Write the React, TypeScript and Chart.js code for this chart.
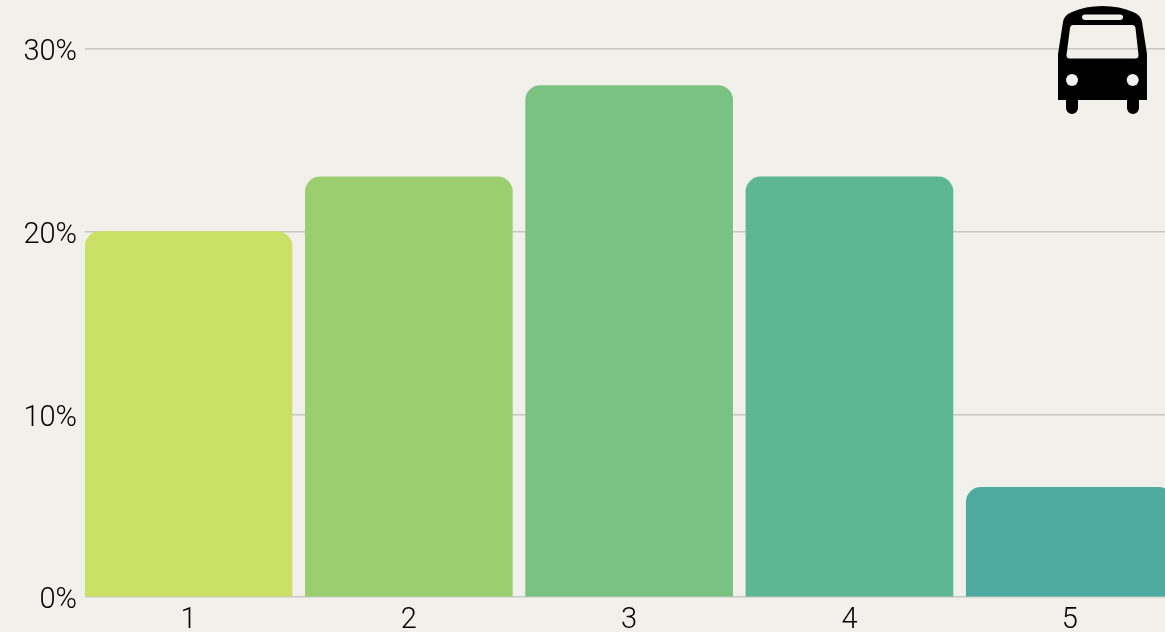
import React, { useEffect, useRef } from "react";
import { Chart, registerables } from "chart.js";

Chart.register(...registerables);

const categories = [1, 2, 3, 4, 5];
const values = [20, 23, 28, 23, 6];
const barColors = ["#cbe165", "#9bce6f", "#7ac282", "#5db892", "#4faba0"];
const yTicks = [0, 10, 20, 30];

const FONT = { family: "Roboto", size: 29, weight: "300" as const };
const INK = "#000000";
const RULE = "#c8c8c3";

export default function App() {
  const ref = useRef<HTMLCanvasElement>(null);

  useEffect(() => {
    const chart = new Chart(ref.current!, {
      type: "bar",
      data: {
        datasets: [
          {
            data: categories.map((c, i) => ({ x: c, y: values[i] })),
            backgroundColor: barColors,
            barThickness: 207,
            borderRadius: { topLeft: 15, topRight: 15, bottomLeft: 0, bottomRight: 0 },
            borderSkipped: false,
          },
        ],
      },
      options: {
        responsive: false,
        animation: false,
        layout: { padding: { top: 49, right: 7, left: 0, bottom: 0 } },
        plugins: { legend: { display: false }, tooltip: { enabled: false } },
        scales: {
          x: {
            type: "linear",
            offset: false,
            min: 0.53,
            max: 5.4687,
            afterBuildTicks: (s: any) => {
              s.ticks = categories.map((value) => ({ value }));
            },
            afterFit: (s: any) => {
              s.height = 35;
            },
            grid: { display: false, drawTicks: false, offset: false },
            border: { display: false },
            ticks: {
              color: INK,
              font: FONT,
              padding: 6,
              maxRotation: 0,
              autoSkip: false,
              callback: (v: any) => String(v),
            },
          },
          y: {
            min: 0,
            max: 30,
            afterBuildTicks: (s: any) => {
              s.ticks = yTicks.map((value) => ({ value }));
            },
            afterFit: (s: any) => {
              s.width = 85;
            },
            grid: { color: RULE, lineWidth: 1.5, drawTicks: false },
            border: { display: false },
            ticks: {
              color: INK,
              font: FONT,
              padding: 8,
              labelOffset: 4,
              callback: (v: any) => `${v}%`,
            },
          },
        },
      },
    } as any);
    return () => chart.destroy();
  }, []);

  return (
    <div style={{ position: "fixed", left: 0, top: 0, width: 1165, height: 632, overflow: "hidden", background: "#f1f0eb" }}>
      <canvas ref={ref} width={1180} height={632} style={{ display: "block", position: "absolute", left: 0, top: 0 }} />
      <svg width={1165} height={632} style={{ position: "absolute", left: 0, top: 0 }}>
        <path
          fillRule="evenodd"
          fill="#000"
          d="M1058 100 L1058 54 L1063 22 Q1064 15 1072 12 Q1085 6 1102.5 6 Q1120 6 1133 12 Q1141 15 1142 22 L1147 54 L1147 100 L1139 100 L1139 108 A6 6 0 0 1 1127 108 L1127 100 L1078 100 L1078 108 A6 6 0 0 1 1066 108 L1066 100 Z
             M1073 25 Q1070.5 25 1070 28 L1066.5 55 Q1066.5 58.5 1069.5 58.5 L1135.5 58.5 Q1138.5 58.5 1138.5 55 L1135.5 28 Q1135 25 1132 25 Z
             M1085 14.5 Q1082 14.5 1082 17 Q1082 20 1085 20 L1120 20 Q1123 20 1123 17 Q1123 14.5 1120 14.5 Z"
        />
        <circle cx={1072} cy={80} r={6} fill="#f1f0eb" />
        <circle cx={1132.7} cy={80} r={6} fill="#f1f0eb" />
      </svg>
    </div>
  );
}
